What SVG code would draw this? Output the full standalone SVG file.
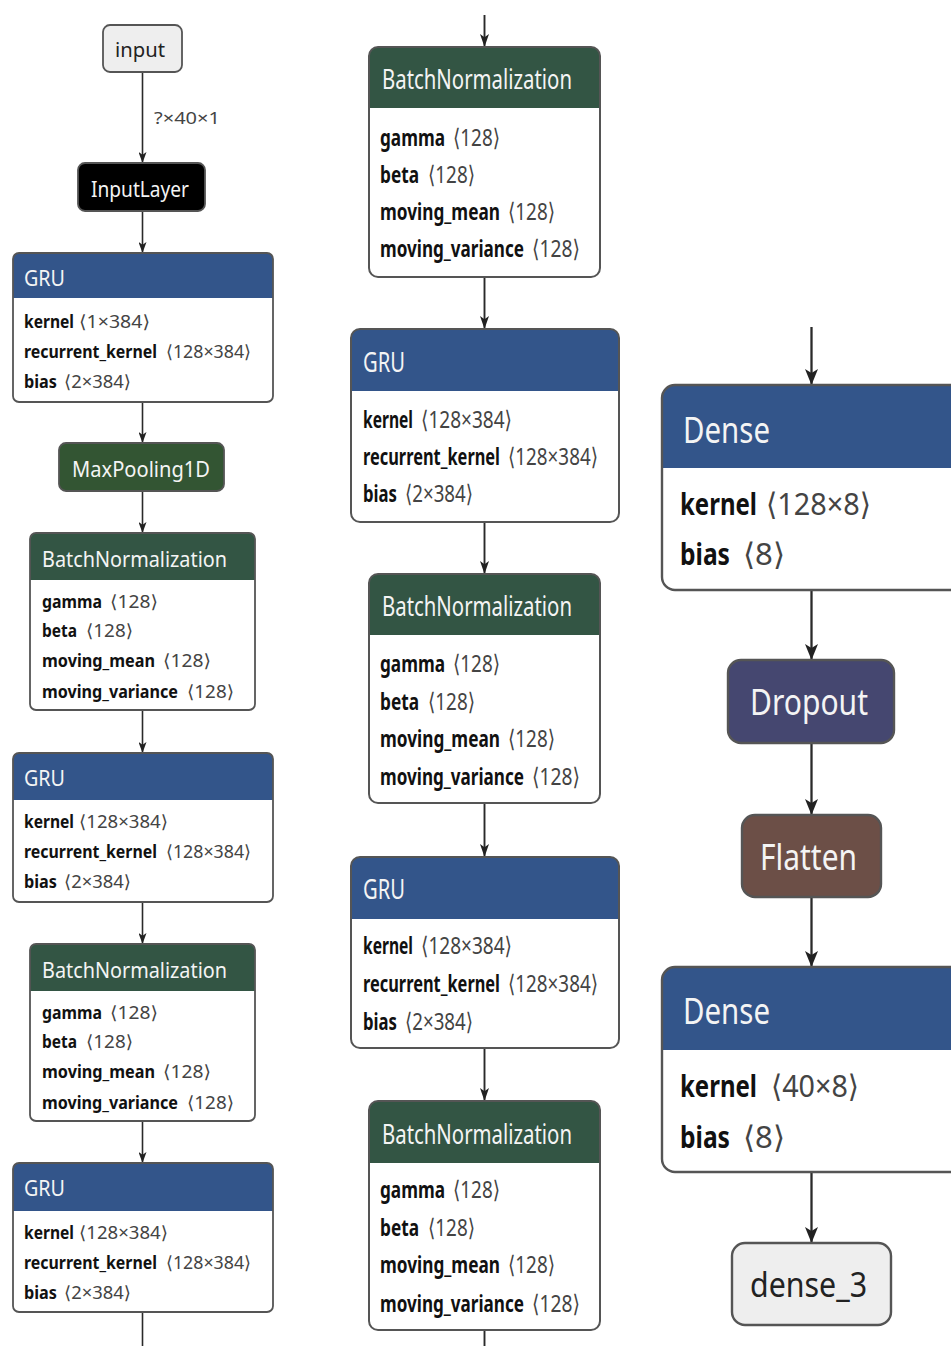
<svg xmlns="http://www.w3.org/2000/svg" width="951" height="1346" viewBox="0 0 951 1346">
  <defs>
    <style>
      text { font-family: "Noto Sans", "Open Sans", "DejaVu Sans", sans-serif; }
      .body { fill: #ffffff; stroke: none; }
      .frame { fill: none; stroke: #555555; }
      .L .frame { stroke-width: 1.8; }
      .M .frame { stroke-width: 2; }
      .R .frame { stroke-width: 2.4; }
      .layer { fill: #33558a; }
      .norm { fill: #335544; }
      .pool { fill: #335533; }
      .drop { fill: #454770; }
      .shape { fill: #6c4f47; }
      .data { fill: #000000; }
      .io { fill: #eeeeee; }
      .ht { fill: #f4f4f4; }
      .nm { fill: #111111; font-weight: bold; transform-box: fill-box; transform-origin: 0 0; }
      .sh { fill: #444444; transform-box: fill-box; transform-origin: 0 0; }
      .L .ht { font-size: 21px; }
      .L .nm, .L .sh { font-size: 18px; }
      .L .nm { transform: scaleX(0.78); }
      .M .ht { font-size: 28px; }
      .M .nm, .M .sh { font-size: 24px; }
      .M .nm { transform: scaleX(0.66); }
      .M .sh { transform: scaleX(0.78); }
      .R .ht { font-size: 36px; }
      .R .nm, .R .sh { font-size: 31px; }
      .R .nm { transform: scaleX(0.7); }
      .R .sh { transform: scaleX(0.93); }
      .ioT { fill: #222222; }
      .edge { fill: none; stroke: #2a2a2a; }
      .eL { stroke-width: 1.6; }
      .eM { stroke-width: 1.9; }
      .eR { stroke-width: 2.3; }
      .elabel { fill: #444444; font-size: 17px; }
    </style>
    <marker id="ahL" viewBox="0 0 10 10" refX="10" refY="5" markerUnits="userSpaceOnUse" markerWidth="11" markerHeight="8" orient="auto" preserveAspectRatio="none">
      <path d="M0,0 L10,5 L0,10 L2.5,5 z" fill="#222222"/>
    </marker>
    <marker id="ahM" viewBox="0 0 10 10" refX="10" refY="5" markerUnits="userSpaceOnUse" markerWidth="13" markerHeight="9" orient="auto" preserveAspectRatio="none">
      <path d="M0,0 L10,5 L0,10 L2.5,5 z" fill="#222222"/>
    </marker>
    <marker id="ahR" viewBox="0 0 10 10" refX="10" refY="5" markerUnits="userSpaceOnUse" markerWidth="16" markerHeight="13" orient="auto" preserveAspectRatio="none">
      <path d="M0,0 L10,5 L0,10 L2.5,5 z" fill="#222222"/>
    </marker>
  </defs>

  <rect x="0" y="0" width="951" height="1346" fill="#ffffff"/>

  <!-- connectors -->
  <g id="edges">
    <!-- left column -->
    <line class="edge eL" x1="142.5" y1="72" x2="142.5" y2="163" marker-end="url(#ahL)"/>
    <text class="elabel" x="154" y="124" textLength="66" lengthAdjust="spacingAndGlyphs">?×40×1</text>
    <line class="edge eL" x1="142.5" y1="211" x2="142.5" y2="253" marker-end="url(#ahL)"/>
    <line class="edge eL" x1="142.5" y1="402" x2="142.5" y2="443" marker-end="url(#ahL)"/>
    <line class="edge eL" x1="142.5" y1="491" x2="142.5" y2="533" marker-end="url(#ahL)"/>
    <line class="edge eL" x1="142.5" y1="710" x2="142.5" y2="753" marker-end="url(#ahL)"/>
    <line class="edge eL" x1="142.5" y1="902" x2="142.5" y2="944" marker-end="url(#ahL)"/>
    <line class="edge eL" x1="142.5" y1="1121" x2="142.5" y2="1163" marker-end="url(#ahL)"/>
    <line class="edge eL" x1="142.5" y1="1312" x2="142.5" y2="1346"/>
    <!-- middle column -->
    <line class="edge eM" x1="484.5" y1="15" x2="484.5" y2="47" marker-end="url(#ahM)"/>
    <line class="edge eM" x1="484.5" y1="277" x2="484.5" y2="329" marker-end="url(#ahM)"/>
    <line class="edge eM" x1="484.5" y1="522" x2="484.5" y2="574" marker-end="url(#ahM)"/>
    <line class="edge eM" x1="484.5" y1="803" x2="484.5" y2="857" marker-end="url(#ahM)"/>
    <line class="edge eM" x1="484.5" y1="1048" x2="484.5" y2="1101" marker-end="url(#ahM)"/>
    <line class="edge eM" x1="484.5" y1="1330" x2="484.5" y2="1346"/>
    <!-- right column -->
    <line class="edge eR" x1="811.5" y1="327" x2="811.5" y2="385" marker-end="url(#ahR)"/>
    <line class="edge eR" x1="811.5" y1="590" x2="811.5" y2="660" marker-end="url(#ahR)"/>
    <line class="edge eR" x1="811.5" y1="743" x2="811.5" y2="815" marker-end="url(#ahR)"/>
    <line class="edge eR" x1="811.5" y1="897" x2="811.5" y2="967" marker-end="url(#ahR)"/>
    <line class="edge eR" x1="811.5" y1="1172" x2="811.5" y2="1243" marker-end="url(#ahR)"/>
  </g>

  <!-- left column nodes -->
  <g id="input" class="L">
    <rect class="io" x="103" y="25" width="79" height="47" rx="7"/>
    <rect class="frame" x="103" y="25" width="79" height="47" rx="7"/>
    <text class="ioT" x="115" y="57" font-size="20" textLength="50" lengthAdjust="spacingAndGlyphs">input</text>
  </g>

  <g id="inputlayer" class="L">
    <rect class="data" x="78" y="163" width="127" height="48" rx="7"/>
    <rect class="frame" x="78" y="163" width="127" height="48" rx="7" stroke="#333333"/>
    <text class="ht" x="91" y="197" textLength="98" lengthAdjust="spacingAndGlyphs">InputLayer</text>
  </g>

  <g id="gru_1" class="L">
    <rect class="body" x="13" y="253" width="260" height="149" rx="6"/>
    <path class="layer" d="M13,298 V259 A6,6 0 0 1 19,253 H267 A6,6 0 0 1 273,259 V298 Z"/>
    <rect class="frame" x="13" y="253" width="260" height="149" rx="6"/>
    <text class="ht" x="24" y="286" textLength="41" lengthAdjust="spacingAndGlyphs">GRU</text>
    <text class="nm" x="24" y="328" textLength="64.1" lengthAdjust="spacingAndGlyphs">kernel</text>
    <text class="sh" x="79" y="328" textLength="71" lengthAdjust="spacingAndGlyphs">⟨1×384⟩</text>
    <text class="nm" x="24" y="358" textLength="170.5" lengthAdjust="spacingAndGlyphs">recurrent_kernel</text>
    <text class="sh" x="166" y="358" textLength="85" lengthAdjust="spacingAndGlyphs">⟨128×384⟩</text>
    <text class="nm" x="24" y="388" textLength="42.3" lengthAdjust="spacingAndGlyphs">bias</text>
    <text class="sh" x="64" y="388" textLength="67" lengthAdjust="spacingAndGlyphs">⟨2×384⟩</text>
  </g>

  <g id="maxpooling1d" class="L">
    <rect class="pool" x="59" y="443" width="165" height="48" rx="7"/>
    <rect class="frame" x="59" y="443" width="165" height="48" rx="7"/>
    <text class="ht" x="72" y="477" font-size="22" textLength="138" lengthAdjust="spacingAndGlyphs">MaxPooling1D</text>
  </g>

  <g id="batchnorm_1" class="L">
    <rect class="body" x="30" y="533" width="225" height="177" rx="6"/>
    <path class="norm" d="M30,580 V539 A6,6 0 0 1 36,533 H249 A6,6 0 0 1 255,539 V580 Z"/>
    <rect class="frame" x="30" y="533" width="225" height="177" rx="6"/>
    <text class="ht" x="42" y="567" textLength="185" lengthAdjust="spacingAndGlyphs">BatchNormalization</text>
    <text class="nm" x="42" y="608" textLength="76.9" lengthAdjust="spacingAndGlyphs">gamma</text>
    <text class="sh" x="110" y="608" textLength="48" lengthAdjust="spacingAndGlyphs">⟨128⟩</text>
    <text class="nm" x="42" y="637" textLength="44.9" lengthAdjust="spacingAndGlyphs">beta</text>
    <text class="sh" x="86" y="637" textLength="47" lengthAdjust="spacingAndGlyphs">⟨128⟩</text>
    <text class="nm" x="42" y="667" textLength="144.9" lengthAdjust="spacingAndGlyphs">moving_mean</text>
    <text class="sh" x="163" y="667" textLength="48" lengthAdjust="spacingAndGlyphs">⟨128⟩</text>
    <text class="nm" x="42" y="698" textLength="174.4" lengthAdjust="spacingAndGlyphs">moving_variance</text>
    <text class="sh" x="187" y="698" textLength="47" lengthAdjust="spacingAndGlyphs">⟨128⟩</text>
  </g>

  <g id="gru_2" class="L">
    <rect class="body" x="13" y="753" width="260" height="149" rx="6"/>
    <path class="layer" d="M13,800 V759 A6,6 0 0 1 19,753 H267 A6,6 0 0 1 273,759 V800 Z"/>
    <rect class="frame" x="13" y="753" width="260" height="149" rx="6"/>
    <text class="ht" x="24" y="786" textLength="41" lengthAdjust="spacingAndGlyphs">GRU</text>
    <text class="nm" x="24" y="828" textLength="64.1" lengthAdjust="spacingAndGlyphs">kernel</text>
    <text class="sh" x="79" y="828" textLength="89" lengthAdjust="spacingAndGlyphs">⟨128×384⟩</text>
    <text class="nm" x="24" y="858" textLength="170.5" lengthAdjust="spacingAndGlyphs">recurrent_kernel</text>
    <text class="sh" x="166" y="858" textLength="85" lengthAdjust="spacingAndGlyphs">⟨128×384⟩</text>
    <text class="nm" x="24" y="888" textLength="42.3" lengthAdjust="spacingAndGlyphs">bias</text>
    <text class="sh" x="64" y="888" textLength="67" lengthAdjust="spacingAndGlyphs">⟨2×384⟩</text>
  </g>

  <g id="batchnorm_2" class="L">
    <rect class="body" x="30" y="944" width="225" height="177" rx="6"/>
    <path class="norm" d="M30,991 V950 A6,6 0 0 1 36,944 H249 A6,6 0 0 1 255,950 V991 Z"/>
    <rect class="frame" x="30" y="944" width="225" height="177" rx="6"/>
    <text class="ht" x="42" y="978" textLength="185" lengthAdjust="spacingAndGlyphs">BatchNormalization</text>
    <text class="nm" x="42" y="1019" textLength="76.9" lengthAdjust="spacingAndGlyphs">gamma</text>
    <text class="sh" x="110" y="1019" textLength="48" lengthAdjust="spacingAndGlyphs">⟨128⟩</text>
    <text class="nm" x="42" y="1048" textLength="44.9" lengthAdjust="spacingAndGlyphs">beta</text>
    <text class="sh" x="86" y="1048" textLength="47" lengthAdjust="spacingAndGlyphs">⟨128⟩</text>
    <text class="nm" x="42" y="1078" textLength="144.9" lengthAdjust="spacingAndGlyphs">moving_mean</text>
    <text class="sh" x="163" y="1078" textLength="48" lengthAdjust="spacingAndGlyphs">⟨128⟩</text>
    <text class="nm" x="42" y="1109" textLength="174.4" lengthAdjust="spacingAndGlyphs">moving_variance</text>
    <text class="sh" x="187" y="1109" textLength="47" lengthAdjust="spacingAndGlyphs">⟨128⟩</text>
  </g>

  <g id="gru_3" class="L">
    <rect class="body" x="13" y="1163" width="260" height="149" rx="6"/>
    <path class="layer" d="M13,1211 V1169 A6,6 0 0 1 19,1163 H267 A6,6 0 0 1 273,1169 V1211 Z"/>
    <rect class="frame" x="13" y="1163" width="260" height="149" rx="6"/>
    <text class="ht" x="24" y="1196" textLength="41" lengthAdjust="spacingAndGlyphs">GRU</text>
    <text class="nm" x="24" y="1239" textLength="64.1" lengthAdjust="spacingAndGlyphs">kernel</text>
    <text class="sh" x="79" y="1239" textLength="89" lengthAdjust="spacingAndGlyphs">⟨128×384⟩</text>
    <text class="nm" x="24" y="1269" textLength="170.5" lengthAdjust="spacingAndGlyphs">recurrent_kernel</text>
    <text class="sh" x="166" y="1269" textLength="85" lengthAdjust="spacingAndGlyphs">⟨128×384⟩</text>
    <text class="nm" x="24" y="1299" textLength="42.3" lengthAdjust="spacingAndGlyphs">bias</text>
    <text class="sh" x="64" y="1299" textLength="67" lengthAdjust="spacingAndGlyphs">⟨2×384⟩</text>
  </g>

  <!-- middle column nodes -->
  <g id="batchnorm_3" class="M">
    <rect class="body" x="369" y="47" width="231" height="230" rx="9"/>
    <path class="norm" d="M369,108 V56 A9,9 0 0 1 378,47 H591 A9,9 0 0 1 600,56 V108 Z"/>
    <rect class="frame" x="369" y="47" width="231" height="230" rx="9"/>
    <text class="ht" x="382" y="89" textLength="190" lengthAdjust="spacingAndGlyphs">BatchNormalization</text>
    <text class="nm" x="380" y="146" textLength="98.5" lengthAdjust="spacingAndGlyphs">gamma</text>
    <text class="sh" x="453" y="146" textLength="60.3" lengthAdjust="spacingAndGlyphs">⟨128⟩</text>
    <text class="nm" x="380" y="183" textLength="59.1" lengthAdjust="spacingAndGlyphs">beta</text>
    <text class="sh" x="428" y="183" textLength="60.3" lengthAdjust="spacingAndGlyphs">⟨128⟩</text>
    <text class="nm" x="380" y="220" textLength="181.8" lengthAdjust="spacingAndGlyphs">moving_mean</text>
    <text class="sh" x="508" y="220" textLength="60.3" lengthAdjust="spacingAndGlyphs">⟨128⟩</text>
    <text class="nm" x="380" y="257" textLength="218.2" lengthAdjust="spacingAndGlyphs">moving_variance</text>
    <text class="sh" x="532" y="257" textLength="61.5" lengthAdjust="spacingAndGlyphs">⟨128⟩</text>
  </g>

  <g id="gru_4" class="M">
    <rect class="body" x="351" y="329" width="268" height="193" rx="9"/>
    <path class="layer" d="M351,391 V338 A9,9 0 0 1 360,329 H610 A9,9 0 0 1 619,338 V391 Z"/>
    <rect class="frame" x="351" y="329" width="268" height="193" rx="9"/>
    <text class="ht" x="363" y="372" textLength="42" lengthAdjust="spacingAndGlyphs">GRU</text>
    <text class="nm" x="363" y="428" textLength="75.8" lengthAdjust="spacingAndGlyphs">kernel</text>
    <text class="sh" x="421" y="428" textLength="116.7" lengthAdjust="spacingAndGlyphs">⟨128×384⟩</text>
    <text class="nm" x="363" y="465" textLength="207.6" lengthAdjust="spacingAndGlyphs">recurrent_kernel</text>
    <text class="sh" x="508" y="465" textLength="115.4" lengthAdjust="spacingAndGlyphs">⟨128×384⟩</text>
    <text class="nm" x="363" y="502" textLength="51.5" lengthAdjust="spacingAndGlyphs">bias</text>
    <text class="sh" x="405" y="502" textLength="87.2" lengthAdjust="spacingAndGlyphs">⟨2×384⟩</text>
  </g>

  <g id="batchnorm_4" class="M">
    <rect class="body" x="369" y="574" width="231" height="229" rx="9"/>
    <path class="norm" d="M369,635 V583 A9,9 0 0 1 378,574 H591 A9,9 0 0 1 600,583 V635 Z"/>
    <rect class="frame" x="369" y="574" width="231" height="229" rx="9"/>
    <text class="ht" x="382" y="616" textLength="190" lengthAdjust="spacingAndGlyphs">BatchNormalization</text>
    <text class="nm" x="380" y="672" textLength="98.5" lengthAdjust="spacingAndGlyphs">gamma</text>
    <text class="sh" x="453" y="672" textLength="60.3" lengthAdjust="spacingAndGlyphs">⟨128⟩</text>
    <text class="nm" x="380" y="710" textLength="59.1" lengthAdjust="spacingAndGlyphs">beta</text>
    <text class="sh" x="428" y="710" textLength="60.3" lengthAdjust="spacingAndGlyphs">⟨128⟩</text>
    <text class="nm" x="380" y="747" textLength="181.8" lengthAdjust="spacingAndGlyphs">moving_mean</text>
    <text class="sh" x="508" y="747" textLength="60.3" lengthAdjust="spacingAndGlyphs">⟨128⟩</text>
    <text class="nm" x="380" y="785" textLength="218.2" lengthAdjust="spacingAndGlyphs">moving_variance</text>
    <text class="sh" x="532" y="785" textLength="61.5" lengthAdjust="spacingAndGlyphs">⟨128⟩</text>
  </g>

  <g id="gru_5" class="M">
    <rect class="body" x="351" y="857" width="268" height="191" rx="9"/>
    <path class="layer" d="M351,919 V866 A9,9 0 0 1 360,857 H610 A9,9 0 0 1 619,866 V919 Z"/>
    <rect class="frame" x="351" y="857" width="268" height="191" rx="9"/>
    <text class="ht" x="363" y="899" textLength="42" lengthAdjust="spacingAndGlyphs">GRU</text>
    <text class="nm" x="363" y="954" textLength="75.8" lengthAdjust="spacingAndGlyphs">kernel</text>
    <text class="sh" x="421" y="954" textLength="116.7" lengthAdjust="spacingAndGlyphs">⟨128×384⟩</text>
    <text class="nm" x="363" y="992" textLength="207.6" lengthAdjust="spacingAndGlyphs">recurrent_kernel</text>
    <text class="sh" x="508" y="992" textLength="115.4" lengthAdjust="spacingAndGlyphs">⟨128×384⟩</text>
    <text class="nm" x="363" y="1030" textLength="51.5" lengthAdjust="spacingAndGlyphs">bias</text>
    <text class="sh" x="405" y="1030" textLength="87.2" lengthAdjust="spacingAndGlyphs">⟨2×384⟩</text>
  </g>

  <g id="batchnorm_5" class="M">
    <rect class="body" x="369" y="1101" width="231" height="229" rx="9"/>
    <path class="norm" d="M369,1163 V1110 A9,9 0 0 1 378,1101 H591 A9,9 0 0 1 600,1110 V1163 Z"/>
    <rect class="frame" x="369" y="1101" width="231" height="229" rx="9"/>
    <text class="ht" x="382" y="1144" textLength="190" lengthAdjust="spacingAndGlyphs">BatchNormalization</text>
    <text class="nm" x="380" y="1198" textLength="98.5" lengthAdjust="spacingAndGlyphs">gamma</text>
    <text class="sh" x="453" y="1198" textLength="60.3" lengthAdjust="spacingAndGlyphs">⟨128⟩</text>
    <text class="nm" x="380" y="1236" textLength="59.1" lengthAdjust="spacingAndGlyphs">beta</text>
    <text class="sh" x="428" y="1236" textLength="60.3" lengthAdjust="spacingAndGlyphs">⟨128⟩</text>
    <text class="nm" x="380" y="1273" textLength="181.8" lengthAdjust="spacingAndGlyphs">moving_mean</text>
    <text class="sh" x="508" y="1273" textLength="60.3" lengthAdjust="spacingAndGlyphs">⟨128⟩</text>
    <text class="nm" x="380" y="1312" textLength="218.2" lengthAdjust="spacingAndGlyphs">moving_variance</text>
    <text class="sh" x="532" y="1312" textLength="61.5" lengthAdjust="spacingAndGlyphs">⟨128⟩</text>
  </g>

  <!-- right column nodes -->
  <g id="dense_1" class="R">
    <rect class="body" x="662" y="385" width="330" height="205" rx="13"/>
    <path class="layer" d="M662,468 V398 A13,13 0 0 1 675,385 H992 V468 Z"/>
    <rect class="frame" x="662" y="385" width="330" height="205" rx="13"/>
    <text class="ht" x="683" y="443" textLength="87" lengthAdjust="spacingAndGlyphs">Dense</text>
    <text class="nm" x="680" y="515" textLength="110" lengthAdjust="spacingAndGlyphs">kernel</text>
    <text class="sh" x="766" y="515" textLength="112.9" lengthAdjust="spacingAndGlyphs">⟨128×8⟩</text>
    <text class="nm" x="680" y="565" textLength="71.4" lengthAdjust="spacingAndGlyphs">bias</text>
    <text class="sh" x="743" y="565" textLength="45.2" lengthAdjust="spacingAndGlyphs">⟨8⟩</text>
  </g>

  <g id="dropout" class="R">
    <rect class="drop" x="728" y="660" width="166" height="83" rx="13"/>
    <rect class="frame" x="728" y="660" width="166" height="83" rx="13"/>
    <text class="ht" x="750" y="715" font-size="35" textLength="118" lengthAdjust="spacingAndGlyphs">Dropout</text>
  </g>

  <g id="flatten" class="R">
    <rect class="shape" x="742" y="815" width="139" height="82" rx="13"/>
    <rect class="frame" x="742" y="815" width="139" height="82" rx="13"/>
    <text class="ht" x="760" y="870" font-size="35" textLength="97" lengthAdjust="spacingAndGlyphs">Flatten</text>
  </g>

  <g id="dense_2" class="R">
    <rect class="body" x="662" y="967" width="330" height="205" rx="13"/>
    <path class="layer" d="M662,1050 V980 A13,13 0 0 1 675,967 H992 V1050 Z"/>
    <rect class="frame" x="662" y="967" width="330" height="205" rx="13"/>
    <text class="ht" x="683" y="1024" textLength="87" lengthAdjust="spacingAndGlyphs">Dense</text>
    <text class="nm" x="680" y="1097" textLength="110" lengthAdjust="spacingAndGlyphs">kernel</text>
    <text class="sh" x="771" y="1097" textLength="94.6" lengthAdjust="spacingAndGlyphs">⟨40×8⟩</text>
    <text class="nm" x="680" y="1148" textLength="71.4" lengthAdjust="spacingAndGlyphs">bias</text>
    <text class="sh" x="743" y="1148" textLength="45.2" lengthAdjust="spacingAndGlyphs">⟨8⟩</text>
  </g>

  <g id="dense_3" class="R">
    <rect class="io" x="732" y="1243" width="159" height="82" rx="13"/>
    <rect class="frame" x="732" y="1243" width="159" height="82" rx="13"/>
    <text class="ioT" x="750" y="1297" font-size="35" textLength="117" lengthAdjust="spacingAndGlyphs">dense_3</text>
  </g>
</svg>
